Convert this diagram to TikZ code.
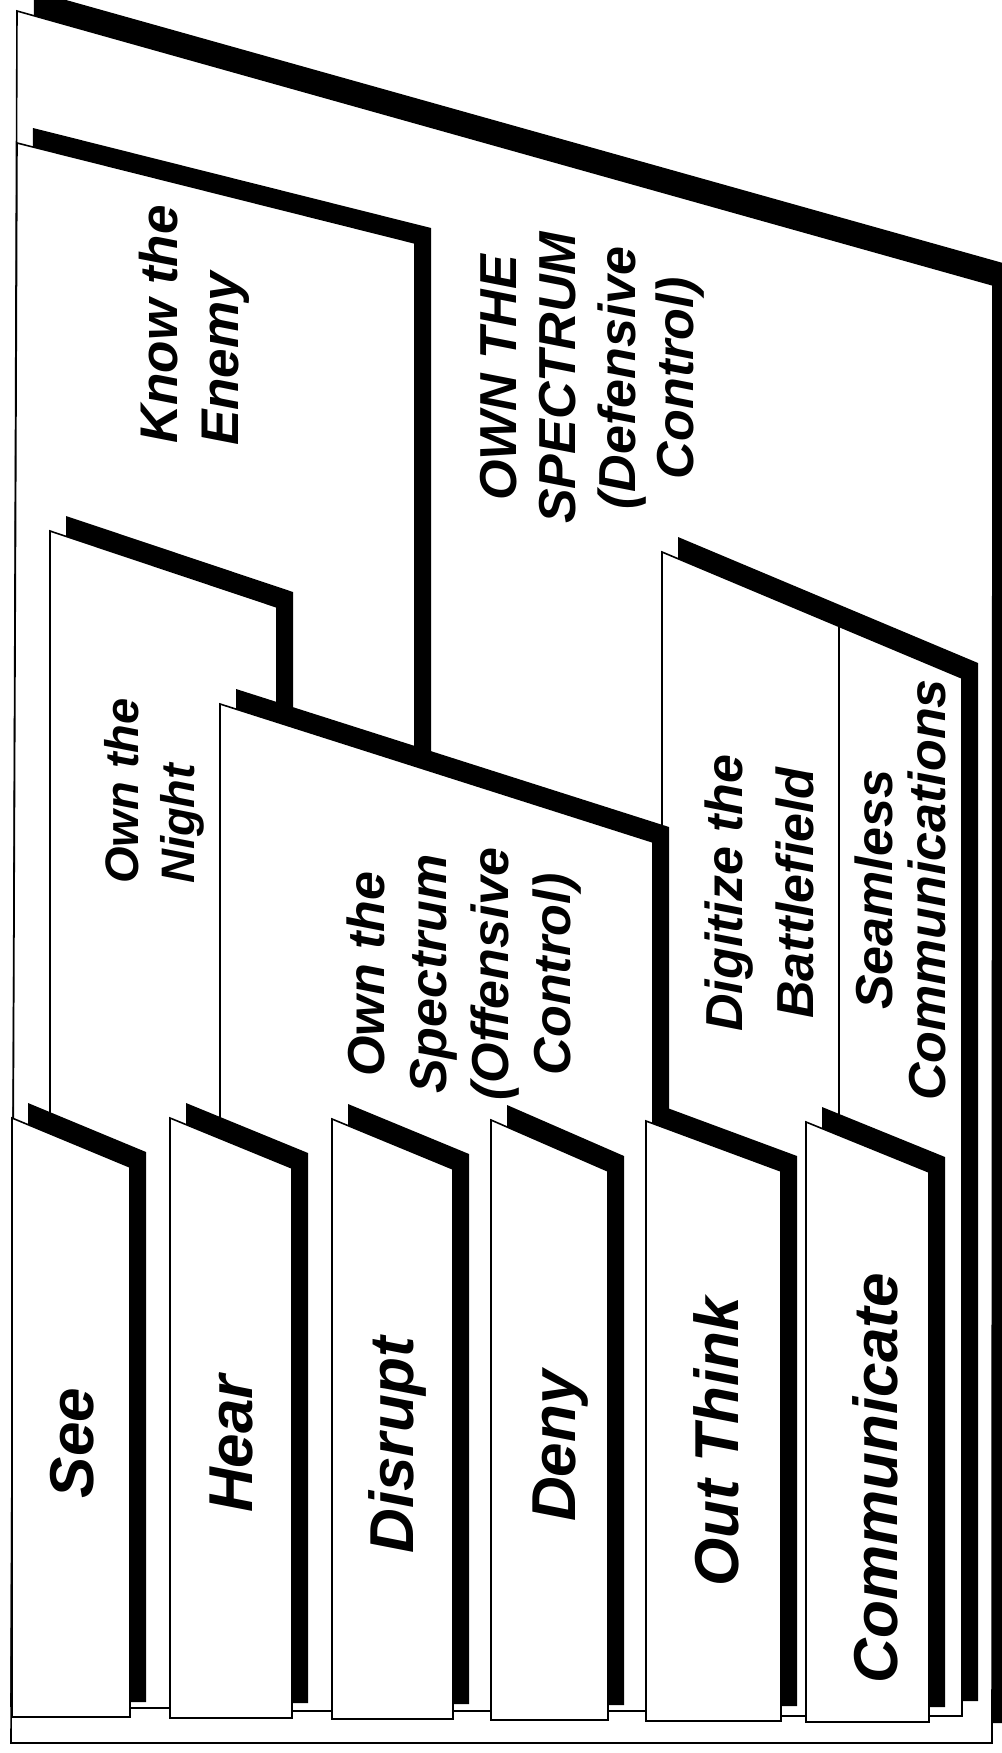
\documentclass[tikz,border=0pt]{standalone}
\usepackage{fontspec}
\setmainfont{Liberation Sans}
\begin{document}
\begin{tikzpicture}[x=1pt,y=-1pt,
  panel/.style={fill=white,draw=black,line width=1.6pt,line join=miter},
  shadowfill/.style={fill=black},
  tabtext/.style={rotate=90,anchor=base,inner sep=0pt,font=\fontsize{62}{70}\selectfont\bfseries\itshape},
  titletext/.style={rotate=90,anchor=base,inner sep=0pt,font=\fontsize{52}{60}\selectfont\bfseries\itshape},
  lefttitle/.style={rotate=90,anchor=base west,inner sep=0pt,font=\fontsize{53}{61}\selectfont\bfseries\itshape},
  smalltitle/.style={rotate=90,anchor=base west,inner sep=0pt,font=\fontsize{47}{54}\selectfont\bfseries\itshape}]
\useasboundingbox[fill=white] (0,0) rectangle (1001,1753);
\newcommand{\folder}[5]{%
  \fill[shadowfill] (#1+16,#2-15) -- (#3+16,#4-15) -- (#3+16,#5-15) -- (#1+16,#5-15) -- cycle;
  \draw[panel] (#1,#2) -- (#3,#4) -- (#3,#5) -- (#1,#5) -- cycle;}
% outer panel
\fill[shadowfill] (34,-9) -- (1010,265) -- (1010,1723) -- (28,1723) -- cycle;
\draw[panel] (17,11) -- (993,285) -- (992,1743) -- (11,1743) -- cycle;
% Know the Enemy
\fill[shadowfill] (33,128) -- (431,228) -- (431,1691) -- (27,1691) -- cycle;
\draw[panel] (17,143) -- (415,243) -- (415,1706) -- (11,1706) -- cycle;
% Digitize / Seamless
\folder{662}{552}{962}{678}{1716}
\draw[line width=1.2pt] (839,626) -- (839,1716);
% Own the Night
\folder{50}{531}{277}{607}{1708}
% Offensive
\folder{220}{704}{653}{842}{1711}
% tabs
\folder{12}{1118}{130}{1167}{1717}
\folder{170}{1118}{292}{1168}{1718}
\folder{332}{1119}{453}{1169}{1719}
\folder{491}{1120}{608}{1171}{1720}
\folder{646}{1121}{781}{1171}{1721}
\folder{806}{1122}{929}{1172}{1722}
% titles
\node[lefttitle] (ke1) at (177,444) {Know the};
\node[lefttitle] (ke2) at (238,446) {Enemy};
\node[titletext] (df1) at (516,378) {OWN THE};
\node[titletext] (df2) at (575,378) {SPECTRUM};
\node[titletext] (df3) at (635,378) {(Defensive};
\node[titletext] (df4) at (693,378) {Control)};
\node[smalltitle] (on1) at (138,884) {Own the};
\node[smalltitle] (on2) at (194,884) {Night};
\node[titletext] (of1) at (384,974) {Own the};
\node[titletext] (of2) at (446,974) {Spectrum};
\node[titletext] (of3) at (508,974) {(Offensive};
\node[titletext] (of4) at (570,974) {Control)};
\node[titletext] (dg1) at (742,893) {Digitize the};
\node[titletext] (dg2) at (813,893) {Battlefield};
\node[titletext] (sm1) at (892,890) {Seamless};
\node[titletext] (sm2) at (945,890) {Communications};
% tab labels
\node[tabtext] (see) at (93,1443) {See};
\node[tabtext] (hear) at (252,1444) {Hear};
\node[tabtext] (disrupt) at (413,1445) {Disrupt};
\node[tabtext] (deny) at (575,1446) {Deny};
\node[tabtext] (outthink) at (738,1442) {Out Think};
\node[tabtext] (comm) at (897,1478) {Communicate};
\end{tikzpicture}
\end{document}
